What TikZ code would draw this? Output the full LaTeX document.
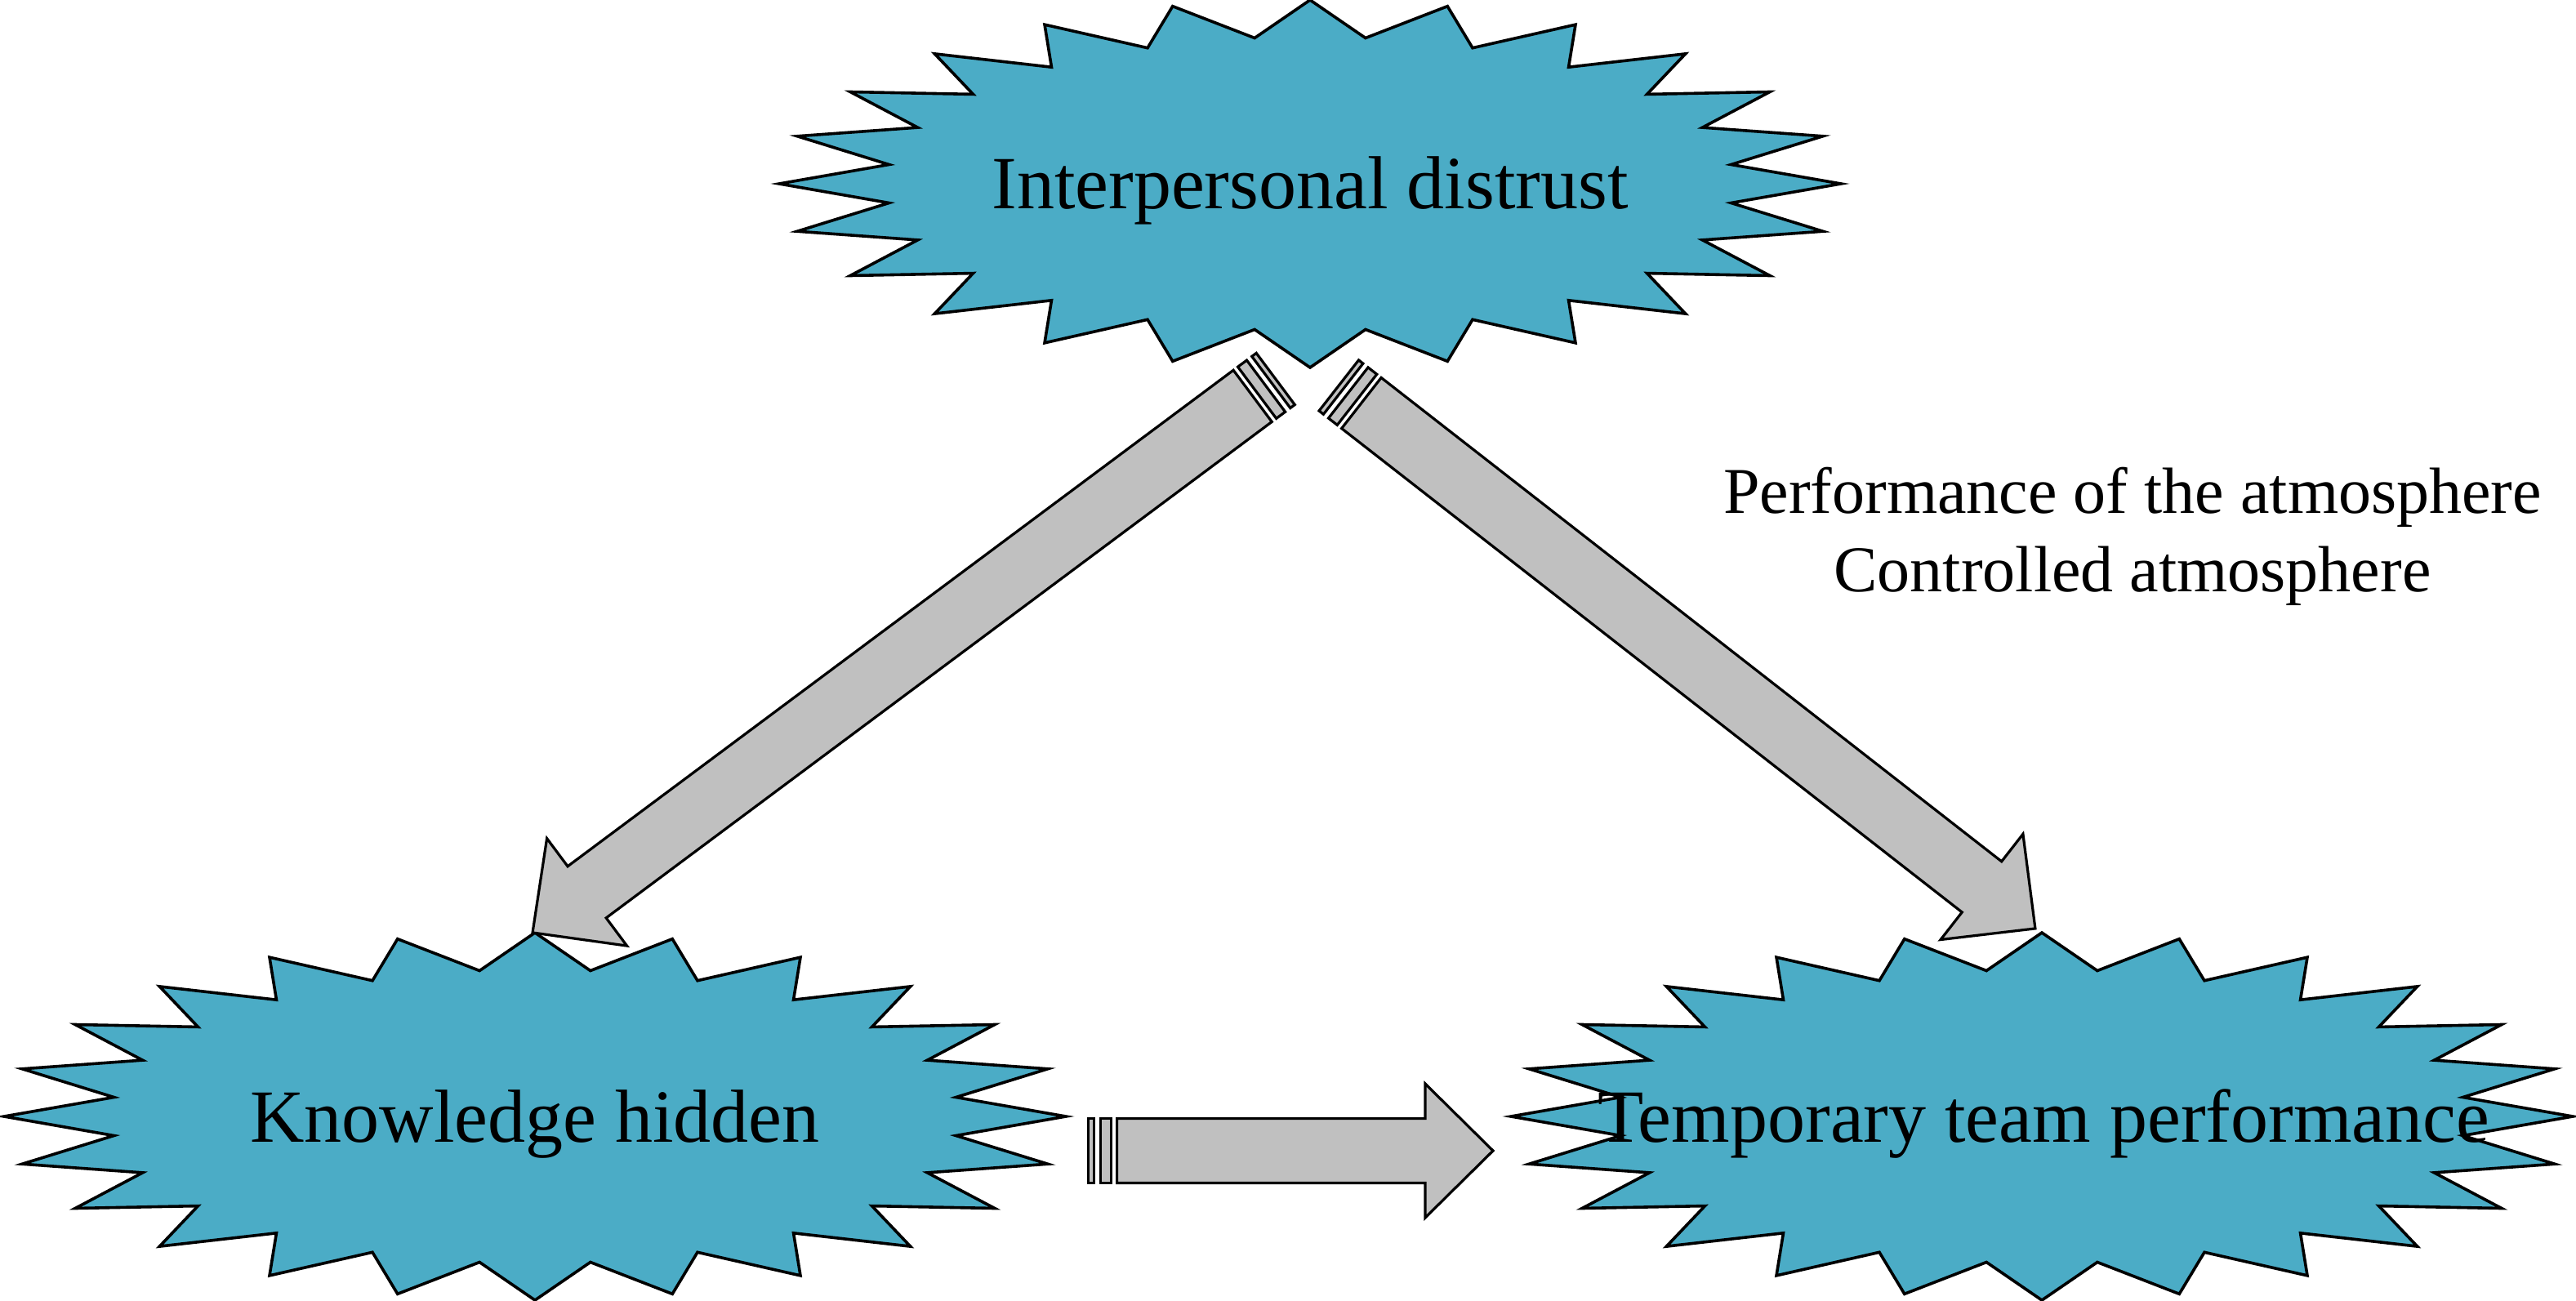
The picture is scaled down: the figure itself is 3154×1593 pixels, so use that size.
\documentclass[tikz,border=0pt]{standalone}
\usepackage{fontspec}
\setmainfont{Liberation Serif}
\definecolor{burstblue}{HTML}{4BACC6}
\definecolor{arrowgray}{HTML}{C0C0C0}
\tikzset{
  burststy/.style={fill=burstblue, draw=black, line width=0.9pt, line join=miter},
  arrowsty/.style={fill=arrowgray, draw=black, line width=0.8pt, line join=miter},
  burstlabel/.style={font=\fontsize{23}{27}\selectfont, anchor=base, inner sep=0pt},
  notelabel/.style={font=\fontsize{20}{24}\selectfont, align=center, inner sep=0pt}
}
% 24-point starburst centred at (#1,#2), in pixel units
\newcommand\drawburst[2]{%
  \filldraw[burststy] ({#1},{#2-225})
    \foreach \i in {1,...,47}{
      -- ({#1+650*(1-0.2*mod(\i,2))*cos(90+7.5*\i)},{#2-225*(1-0.2*mod(\i,2))*sin(90+7.5*\i)})
    } -- cycle;}
% striped block arrow from coordinate #1 (tail) to coordinate #2 (tip)
\newcommand\stripearrow[2]{%
  \path (#1); \pgfgetlastxy{\arax}{\aray}%
  \path (#2); \pgfgetlastxy{\arbx}{\arby}%
  \pgfmathsetmacro\arang{atan2(\arby-\aray,\arbx-\arax)}%
  \pgfmathsetmacro\arlen{veclen(\arbx-\arax,\arby-\aray)}%
  \pgfmathsetmacro\arbase{\arlen-20.75}%
  \begin{scope}[shift={(#1)}, rotate=\arang]
    \filldraw[arrowsty] (0.4pt,-9.85pt) rectangle (2.1pt,9.85pt);
    \filldraw[arrowsty] (4.05pt,-9.85pt) rectangle (7.45pt,9.85pt);
    \filldraw[arrowsty] (9.15pt,-9.85pt) -- (\arbase pt,-9.85pt) -- (\arbase pt,-20.5pt)
      -- (\arlen pt,0pt) -- (\arbase pt,20.5pt) -- (\arbase pt,9.85pt) -- (9.15pt,9.85pt) -- cycle;
  \end{scope}}
\begin{document}
\begin{tikzpicture}[x=0.25pt,y=-0.25pt]
  \useasboundingbox (0,0) rectangle (3154,1593);
  % bursts
  \drawburst{1604}{225}
  \drawburst{655}{1367}
  \drawburst{2500}{1367}
  % arrow end points
  \coordinate (ltail) at (1563,463);
  \coordinate (ltip) at (652,1142);
  \coordinate (rtail) at (1638,471);
  \coordinate (rtip) at (2492,1137);
  \coordinate (btail) at (1331,1409);
  \coordinate (btip) at (1828,1409);
  \stripearrow{ltail}{ltip}
  \stripearrow{rtail}{rtip}
  \stripearrow{btail}{btip}
  % labels
  \node[burstlabel] (ip) at (1604,256) {Interpersonal distrust};
  \node[burstlabel] (kh) at (655,1398) {Knowledge hidden};
  \node[burstlabel] (tp) at (2502,1398) {Temporary team performance};
  \node[notelabel] (note) at (2611,657) {Performance of the atmosphere\\Controlled atmosphere};
\end{tikzpicture}
\end{document}
